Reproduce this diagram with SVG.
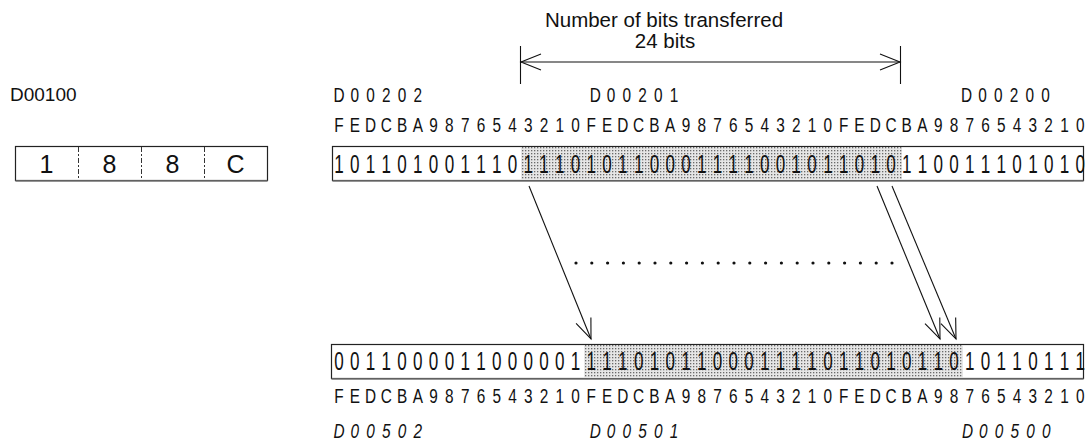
<svg xmlns="http://www.w3.org/2000/svg" width="1092" height="448" viewBox="0 0 1092 448">
  <style>
    .t { font-family: "Liberation Sans", Arial, sans-serif; fill: #111; }
    .g { font-family: "Liberation Sans", Arial, sans-serif; fill: #111; text-anchor: middle; }
    .bit { font-size: 26px; }
    .hdr { font-size: 19.5px; }
    .lab { font-size: 19.5px; }
    .ital { font-style: italic; }
    .box { fill: #fff; stroke: #222; stroke-width: 1.2; }
    .boxb { stroke: #777; stroke-width: 1.6; }
    .div { stroke: #333; stroke-width: 1; stroke-dasharray: 5 2 2 2; }
    .ln { fill: none; stroke: #111; stroke-width: 1.1; }
  </style>
  <defs>
    <pattern id="stipple" width="3" height="3" patternUnits="userSpaceOnUse">
      <rect width="3" height="3" fill="#e6e6e6"/>
      <rect width="1.3" height="1.3" fill="#6a6a6a"/>
    </pattern>
    <marker id="open" markerUnits="userSpaceOnUse" markerWidth="26" markerHeight="22" viewBox="-23 -11 26 22" refX="0" refY="0" orient="auto-start-reverse">
      <path d="M-20,-8 L0,0 L-20,8" fill="none" stroke="#111" stroke-width="1.1"/>
    </marker>
  </defs>

  <g id="title">
    <text class="t" x="664" y="27" font-size="20.5" text-anchor="middle">Number of bits transferred</text>
    <text class="t" x="665" y="48" font-size="20.5" text-anchor="middle">24 bits</text>
  </g>

  <g id="node-d00100">
    <text class="t" x="10" y="101" font-size="19">D00100</text>
    <rect class="box" x="15.5" y="146.5" width="252" height="34"/>
    <line class="boxb" x1="15.5" y1="181" x2="267.5" y2="181"/>
    <line class="div" x1="78.5" y1="147" x2="78.5" y2="180"/>
    <line class="div" x1="141.5" y1="147" x2="141.5" y2="180"/>
    <line class="div" x1="204.5" y1="147" x2="204.5" y2="180"/>
    <text class="t" font-size="25" text-anchor="middle" y="173" x="46.5">1</text>
    <text class="t" font-size="25" text-anchor="middle" y="173" x="109.5">8</text>
    <text class="t" font-size="25" text-anchor="middle" y="173" x="172.5">8</text>
    <text class="t" font-size="25" text-anchor="middle" y="173" x="235.5">C</text>
  </g>

  <g id="node-source">
    <rect class="box" x="332.5" y="146.5" width="751" height="34"/>
    <rect x="521" y="147" width="381" height="33" fill="url(#stipple)"/>
    <line class="boxb" x1="332.5" y1="181" x2="1083.5" y2="181"/>
    <g transform="translate(339 0) scale(0.7885 1)">
      <text class="g lab" y="102" x="0 20 40 60 80 100">D00202</text>
      <text class="g lab" y="102" x="325 345 365 385 405 425">D00201</text>
      <text class="g lab" y="102" x="796 816 836 856 876 896">D00200</text>
      <text class="g hdr" y="132" x="0 20 40 60 80 100 120 140 160 180 200 220 240 260 280 300 320 340 360 380 400 420 440 460 480 500 520 540 560 580 600 620 640 660 680 700 720 740 760 780 800 820 840 860 880 900 920 940">FEDCBA9876543210FEDCBA9876543210FEDCBA9876543210</text>
    </g>
    <g transform="translate(339 0) scale(0.6571 1)">
      <text class="g bit" y="173" x="0 24 48 72 96 120 144 168 192 216 240 264 288 312 336 360 384 408 432 456 480 504 528 552 576 600 624 648 672 696 720 744 768 792 816 840 864 888 912 936 960 984 1008 1032 1056 1080 1104 1128">101101001110111010110001111001011010110011101010</text>
    </g>
  </g>

  <g id="node-destination">
    <rect class="box" x="331.5" y="344.5" width="752" height="34"/>
    <rect x="584" y="345" width="379" height="33" fill="url(#stipple)"/>
    <line class="boxb" x1="331.5" y1="379" x2="1083.5" y2="379"/>
    <g transform="translate(339 0) scale(0.6571 1)">
      <text class="g bit" y="370" x="0 24 48 72 96 120 144 168 192 216 240 264 288 312 336 360 384 408 432 456 480 504 528 552 576 600 624 648 672 696 720 744 768 792 816 840 864 888 912 936 960 984 1008 1032 1056 1080 1104 1128">001100001100000111101011000111101101011010110111</text>
    </g>
    <g transform="translate(339 0) scale(0.7885 1)">
      <text class="g hdr" y="403" x="0 20 40 60 80 100 120 140 160 180 200 220 240 260 280 300 320 340 360 380 400 420 440 460 480 500 520 540 560 580 600 620 640 660 680 700 720 740 760 780 800 820 840 860 880 900 920 940">FEDCBA9876543210FEDCBA9876543210FEDCBA9876543210</text>
      <text class="g lab ital" y="438" x="0 20 40 60 80 100">D00502</text>
      <text class="g lab ital" y="438" x="325 345 365 385 405 425">D00501</text>
      <text class="g lab ital" y="438" x="797 817 837 857 877 897">D00500</text>
    </g>
  </g>

  <g id="ellipsis">
    <line x1="576" y1="263" x2="892" y2="263" stroke="#111" stroke-width="3.2" stroke-linecap="round" stroke-dasharray="0 15.8"/>
  </g>

  <g id="connectors">
    <line class="ln" x1="520.5" y1="46" x2="520.5" y2="84"/>
    <line class="ln" x1="900.5" y1="46" x2="900.5" y2="84"/>
    <line class="ln" x1="521" y1="62" x2="900" y2="62" marker-start="url(#open)" marker-end="url(#open)"/>
    <line class="ln" x1="529" y1="186" x2="591" y2="339" marker-end="url(#open)"/>
    <line class="ln" x1="877" y1="186" x2="940" y2="339" marker-end="url(#open)"/>
    <line class="ln" x1="892" y1="186" x2="956" y2="339" marker-end="url(#open)"/>
  </g>
</svg>
